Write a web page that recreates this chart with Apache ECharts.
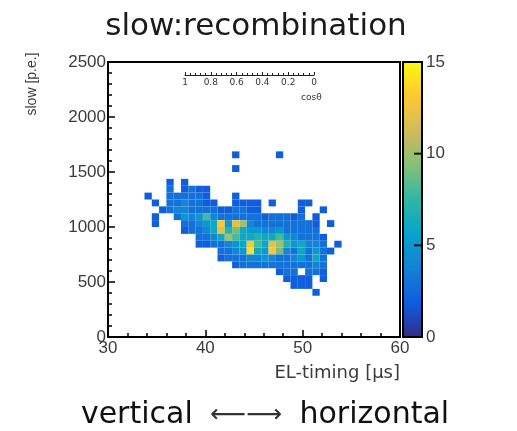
<!DOCTYPE html>
<html>
<head>
<meta charset="utf-8">
<script src="https://cdn.jsdelivr.net/npm/echarts@6/dist/echarts.min.js"></script>
<style>
html, body { margin: 0; padding: 0; background: #fff; }
#main { width: 517px; height: 431px; }
</style>
</head>
<body>
<div id="main"></div>
<script>
// histogram binning (40 x 40 bins over 30-60 us, 0-2500 p.e.)
var xMin = 30, xBinWidth = 0.75;
var yBinWidth = 62.5;
var firstCol = 4;   // column index of the first entry in every row below

// y bin index of each row of counts (top row first)
var rowBins = [26, 24, 22, 21, 20, 19, 18, 17, 16, 15, 14, 13, 12, 11, 10, 9, 8, 7, 6];

// counts per row, columns 4..33
var counts = [
    [0,0,0,0,0,0,0,0,0,0, 0,0,0,2,0,0,0,0,0,2, 0,0,0,0,0,0,0,0,0,0],
    [0,0,0,0,0,0,0,0,0,0, 0,0,0,2,0,0,0,0,0,0, 0,0,0,0,0,0,0,0,0,0],
    [0,0,0,0,2,0,2,0,0,0, 0,0,0,0,0,0,0,0,0,0, 0,0,0,0,0,0,0,0,0,0],
    [0,0,0,0,3,0,2,3,2,2, 0,0,0,0,0,0,0,0,0,0, 0,0,0,0,0,0,0,0,0,0],
    [0,2,0,0,3,3,3,3,3,2, 0,0,0,2,0,0,0,0,0,0, 0,0,0,0,0,0,0,0,0,0],
    [0,0,2,0,3,3,4,3,3,2, 2,0,0,2,2,2,2,0,2,0, 0,0,2,2,0,0,0,0,0,0],
    [0,0,0,2,3,4,4,3,3,3, 3,2,2,3,3,2,2,0,0,0, 0,0,2,0,0,2,0,0,0,0],
    [0,0,2,0,0,3,5,4,5,8, 4,3,3,3,3,3,3,2,3,3, 3,2,3,0,2,0,0,0,0,0],
    [0,0,2,0,0,0,3,3,4,5, 6,13,5,12,10,4,3,3,3,3, 3,3,3,3,2,0,2,0,0,0],
    [0,0,0,0,0,0,2,3,3,4, 6,12,7,9,6,5,5,4,4,5, 3,3,3,3,3,0,0,0,0,0],
    [0,0,0,0,0,0,0,0,3,3, 4,6,10,8,6,6,7,6,6,8, 5,4,3,3,3,2,0,0,0,0],
    [0,0,0,0,0,0,0,0,2,2, 3,3,4,5,6,13,8,6,12,10, 7,5,6,4,4,3,0,2,0,0],
    [0,0,0,0,0,0,0,0,0,0, 0,3,3,4,5,14,6,5,13,9, 4,3,6,3,5,3,2,0,0,0],
    [0,0,0,0,0,0,0,0,0,0, 0,2,3,3,3,4,4,5,4,3, 3,4,5,3,6,3,0,0,0,0],
    [0,0,0,0,0,0,0,0,0,0, 0,0,0,2,3,3,3,3,3,3, 3,3,3,3,4,3,0,0,0,0],
    [0,0,0,0,0,0,0,0,0,0, 0,0,0,0,0,0,0,0,0,2, 3,3,0,3,3,2,0,0,0,0],
    [0,0,0,0,0,0,0,0,0,0, 0,0,0,0,0,0,0,0,0,0, 2,2,2,2,0,2,0,0,0,0],
    [0,0,0,0,0,0,0,0,0,0, 0,0,0,0,0,0,0,0,0,0, 0,2,2,2,0,0,0,0,0,0],
    [0,0,0,0,0,0,0,0,0,0, 0,0,0,0,0,0,0,0,0,0, 0,0,0,0,2,0,0,0,0,0]
];

// colour bar inner tick values
var barTicks = [5, 10];

// ROOT kBird palette
var palette = ['#352a87', '#0f5cdd', '#1481d6', '#06a4ca', '#2eb7a4',
               '#87bf77', '#d1bb59', '#fec832', '#f9fb0e'];

var cells = [];
for (var r = 0; r < rowBins.length; r++) {
    for (var k = 0; k < counts[r].length; k++) {
        if (counts[r][k] > 0) {
            cells.push([xMin + (firstCol + k) * xBinWidth, rowBins[r] * yBinWidth, counts[r][k]]);
        }
    }
}

// colour bar fill: same stops as the visualMap, bottom to top
var barStops = palette.map(function (c, i) {
    return { offset: i / (palette.length - 1), color: c };
});

var tickColor = '#000';
var labelColor = '#3c3c3c';
var plainLabel = function (v) { return String(v); };

var myChart = echarts.init(document.getElementById('main'));
var option = {
    backgroundColor: '#fff',
    animation: false,
    title: [
        {
            text: 'slow:recombination',
            left: 251, top: 6, textAlign: 'center',
            textStyle: { fontSize: 31, fontWeight: 'normal', color: '#1a1a1a', fontFamily: 'DejaVu Sans' }
        },
        {
            text: 'vertical {a|⟵⟶} horizontal',
            left: 260, top: 395, textAlign: 'center',
            textStyle: {
                fontSize: 30, fontWeight: 'normal', color: '#111', fontFamily: 'DejaVu Sans',
                rich: { a: { fontSize: 25, fontFamily: 'DejaVu Sans', color: '#333', padding: [0, 8] } }
            }
        },
        {
            text: 'cosθ',
            left: 296, top: 88,
            textStyle: { fontSize: 9, fontWeight: 'normal', color: '#333', fontFamily: 'DejaVu Sans' }
        }
    ],
    graphic: [{
        type: 'text', x: 32, y: 84, rotation: Math.PI / 2,
        style: {
            text: 'slow [p.e.]', fontSize: 14, fontFamily: 'Liberation Sans',
            fill: labelColor, align: 'center', verticalAlign: 'middle'
        }
    }],
    grid: [
        { left: 108, top: 62, width: 292, height: 275, show: true, borderColor: '#000', borderWidth: 2, z: 5 },
        {
            left: 403, top: 62, width: 19, height: 275, show: true,
            borderColor: '#000', borderWidth: 2,
            backgroundColor: new echarts.graphic.LinearGradient(0, 1, 0, 0, barStops)
        },
        { left: 185, top: 74, width: 129, height: 1 }
    ],
    visualMap: {
        type: 'continuous', show: false, seriesIndex: 0, dimension: 2,
        min: 0, max: 15,
        inRange: { color: palette }
    },
    xAxis: [
        {
            type: 'value', gridIndex: 0, min: 30, max: 60, interval: 10,
            axisLine: { show: true, onZero: false, lineStyle: { color: tickColor, width: 2 } },
            axisTick: { inside: true, length: 7, lineStyle: { color: tickColor, width: 1.5 } },
            minorTick: { show: true, splitNumber: 5, length: 4, lineStyle: { color: tickColor, width: 1.5 } },
            splitLine: { show: false },
            axisLabel: { fontSize: 17, color: labelColor, margin: 3, fontFamily: 'Liberation Sans', formatter: plainLabel },
            name: 'EL-timing [µs]', nameLocation: 'end', nameGap: 0,
            nameTextStyle: {
                align: 'right', verticalAlign: 'top', padding: [27, 0, 0, 0],
                fontSize: 18, color: labelColor, fontFamily: 'DejaVu Sans'
            },
            z: 6
        },
        // colour bar: x runs -1..0 so x = 0 is the right edge of the bar
        { type: 'value', gridIndex: 1, min: -1, max: 0, show: false },
        {
            type: 'value', gridIndex: 2, min: 0, max: 1, interval: 0.2, inverse: true,
            position: 'bottom',
            axisLine: { show: true, lineStyle: { color: '#222', width: 1 } },
            axisTick: { inside: true, length: 3, lineStyle: { color: '#222' } },
            minorTick: { show: true, splitNumber: 5, length: 2, lineStyle: { color: '#222' } },
            splitLine: { show: false },
            axisLabel: { fontSize: 9, color: '#333', margin: 3, fontFamily: 'DejaVu Sans' }
        }
    ],
    yAxis: [
        {
            type: 'value', gridIndex: 0, min: 0, max: 2500, interval: 500,
            axisLine: { show: true, onZero: false, lineStyle: { color: tickColor, width: 2 } },
            axisTick: { inside: true, length: 7, lineStyle: { color: tickColor, width: 1.5 } },
            minorTick: { show: true, splitNumber: 5, length: 4, lineStyle: { color: tickColor, width: 1.5 } },
            splitLine: { show: false },
            axisLabel: { fontSize: 17, color: labelColor, margin: 2, fontFamily: 'Liberation Sans', formatter: plainLabel },
            z: 6
        },
        {
            type: 'value', gridIndex: 1, min: 0, max: 15, interval: 5, position: 'right',
            axisLine: { show: true, onZero: false, lineStyle: { color: '#000', width: 2 } },
            axisTick: { show: false },
            splitLine: { show: false },
            axisLabel: { fontSize: 17, color: labelColor, margin: 4, fontFamily: 'Liberation Sans', formatter: plainLabel }
        },
        { type: 'value', gridIndex: 2, min: 0, max: 1, show: false }
    ],
    series: [
        {
            type: 'custom',
            xAxisIndex: 0, yAxisIndex: 0,
            encode: { x: 0, y: 1 },
            clip: true,
            data: cells,
            renderItem: function (params, api) {
                var p0 = api.coord([api.value(0), api.value(1) + yBinWidth]);
                var p1 = api.coord([api.value(0) + xBinWidth, api.value(1)]);
                return {
                    type: 'rect',
                    shape: { x: p0[0], y: p0[1], width: p1[0] - p0[0], height: p1[1] - p0[1] },
                    style: { fill: api.visual('color') }
                };
            }
        },
        {
            // short inner ticks on the right edge of the colour bar
            type: 'custom',
            xAxisIndex: 1, yAxisIndex: 1,
            z: 20,
            silent: true,
            data: barTicks.map(function (v) { return [0, v]; }),
            renderItem: function (params, api) {
                var p = api.coord([0, api.value(1)]);
                return {
                    type: 'line',
                    shape: { x1: p[0] - 8, y1: p[1], x2: p[0], y2: p[1] },
                    style: { stroke: '#111', lineWidth: 2 }
                };
            }
        }
    ]
};
myChart.setOption(option);
</script>
</body>
</html>
